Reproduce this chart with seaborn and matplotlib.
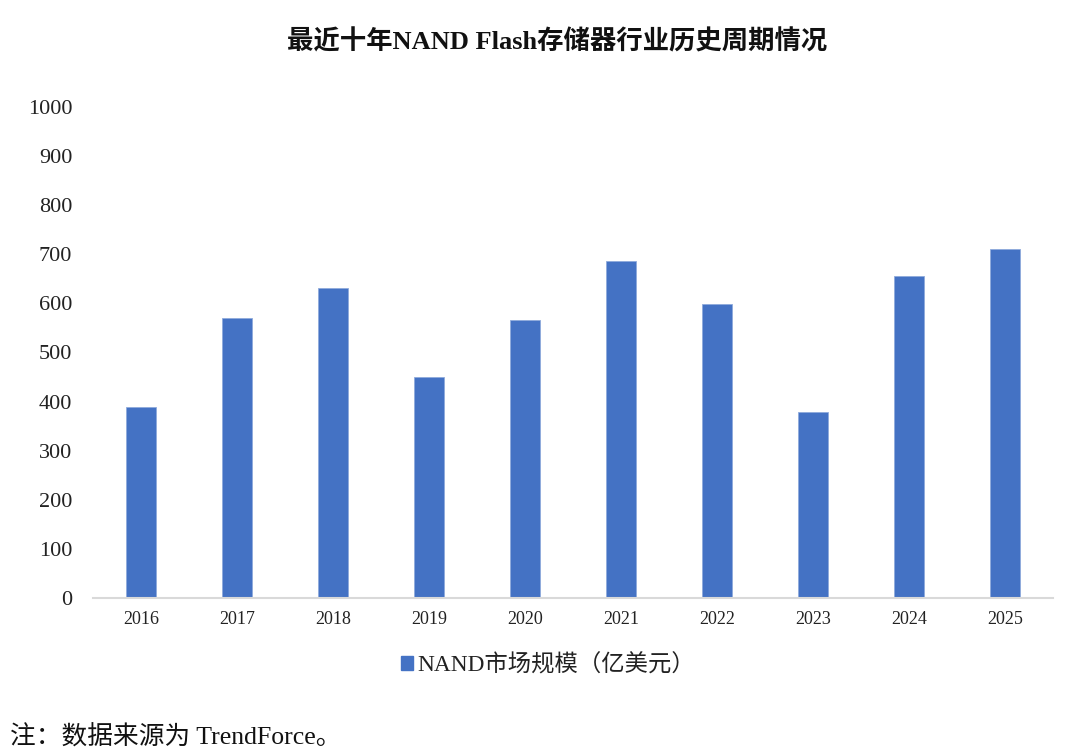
import matplotlib
matplotlib.use("Agg")
import matplotlib.pyplot as plt
import seaborn as sns
import pandas as pd
from matplotlib.patches import Patch

years = ["2016", "2017", "2018", "2019", "2020", "2021", "2022", "2023", "2024", "2025"]
market_size = [390, 570, 632, 450, 566, 686, 599, 379, 655, 711]
series_name = "NAND市场规模（亿美元）"
title = "最近十年NAND Flash存储器行业历史周期情况"
note = "注：数据来源为 TrendForce。"
y_ticks = [0, 100, 200, 300, 400, 500, 600, 700, 800, 900, 1000]

sns.set_theme(style="white")
plt.rcParams["font.family"] = ["Liberation Serif", "Noto Sans CJK SC"]

df = pd.DataFrame({"year": years, "value": market_size})

fig = plt.figure(figsize=(10.75, 7.55), dpi=100)
ax = fig.add_axes([93 / 1075, 1 - 598 / 755, 960 / 1075, 491 / 755])

bar_color = "#4472C4"
sns.barplot(data=df, x="year", y="value", color=bar_color, width=0.31,
            saturation=1, edgecolor="#8FAADC", linewidth=0.6, ax=ax)

ax.set_xlim(-0.5, 9.5)
ax.set_ylim(0, 1000)
ax.set_yticks(y_ticks)
ax.set_xlabel("")
ax.set_ylabel("")
ax.tick_params(axis="y", length=0, pad=15, labelsize=16, labelcolor="#222222")
ax.tick_params(axis="x", length=0, pad=9, labelsize=13, labelcolor="#222222")
for s in ["top", "right", "left"]:
    ax.spines[s].set_visible(False)
ax.spines["bottom"].set_color("#D9D9D9")
ax.spines["bottom"].set_linewidth(1.5)
ax.grid(False)

fig.text(557 / 1075, 1 - 42 / 755, title, ha="center", va="center",
         fontsize=19, fontweight="bold", color="#111111")

handles = [Patch(facecolor=bar_color, edgecolor=bar_color, label=series_name)]
fig.legend(handles=handles, loc="center", bbox_to_anchor=(548 / 1075, 1 - 665 / 755),
           frameon=False, fontsize=16.8, handlelength=0.5, handleheight=0.5,
           handletextpad=0.2, labelcolor="#222222")

fig.text(10 / 1075, 1 - 737 / 755, note, ha="left", va="center",
         fontsize=18.5, color="#111111")

fig.savefig("out.png", dpi=100)
